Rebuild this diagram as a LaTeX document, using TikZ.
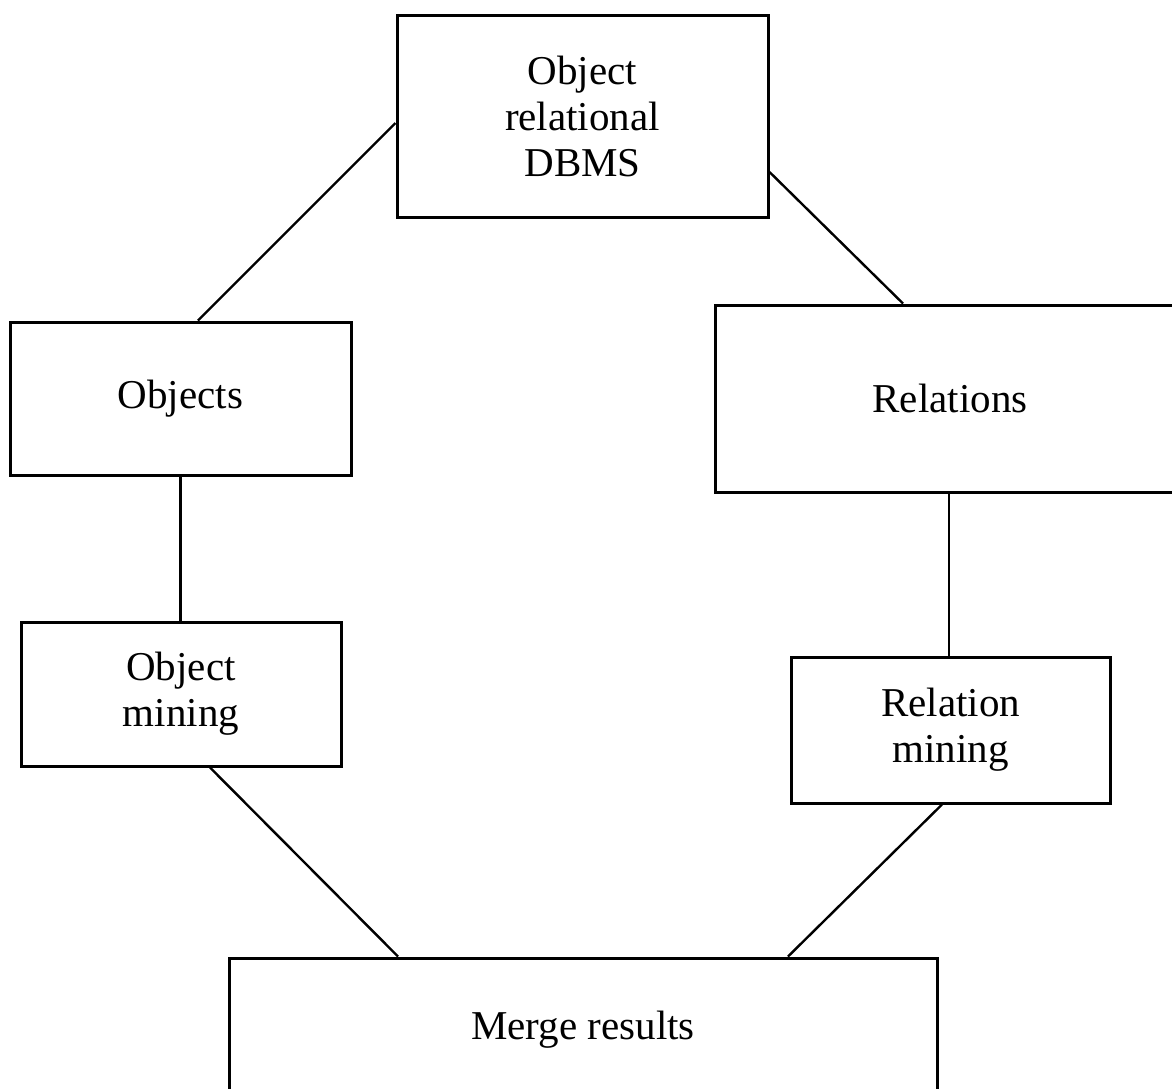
\documentclass[tikz,border=0pt]{standalone}
\usepackage{fontspec}
\setmainfont{Liberation Serif}
\begin{document}
\begin{tikzpicture}[x=1pt,y=-1pt,
  box/.style={draw=black, line width=3pt, fill=white, rectangle, inner sep=0pt,
    align=center, font=\fontsize{41}{46}\selectfont},
  link/.style={draw=black, line width=2.4pt}]
  \useasboundingbox (0,0) rectangle (1172,1088);
  \fill[white] (0,0) rectangle (1172,1088);
  \clip (0,0) rectangle (1172,1088);

  % boxes
  \node[box, minimum width=371pt, minimum height=202pt] (dbms) at (582.5,116) {Object\\relational\\DBMS};
  \node[box, minimum width=341pt, minimum height=153pt] (objects) at (180.5,398.5) {Objects};
  \node[box, minimum width=470pt, minimum height=187pt] (relations) at (950,398.5) {Relations};
  \node[box, minimum width=320pt, minimum height=144pt] (objmining) at (181,694) {Object\\mining};
  \node[box, minimum width=319pt, minimum height=146pt] (relmining) at (950.5,730) {Relation\\mining};
  \node[box, minimum width=708pt, minimum height=144pt] (merge) at (583,1030) {Merge results};

  % connectors
  \draw[link] ([yshift=-7pt]dbms.west) -- ([xshift=17.5pt]objects.north);
  \draw[link] ([yshift=-56pt]dbms.east) -- ([xshift=-47pt]relations.north);
  \draw[link] (objects.south) -- (objects.south |- objmining.north);
  \draw[link] ([xshift=-1pt]relations.south) -- ([xshift=-1pt]relations.south |- relmining.north);
  \draw[link] ([xshift=29pt]objmining.south) -- ([xshift=-185pt]merge.north);
  \draw[link] ([xshift=-8.5pt]relmining.south) -- ([xshift=205pt]merge.north);
\end{tikzpicture}
\end{document}
